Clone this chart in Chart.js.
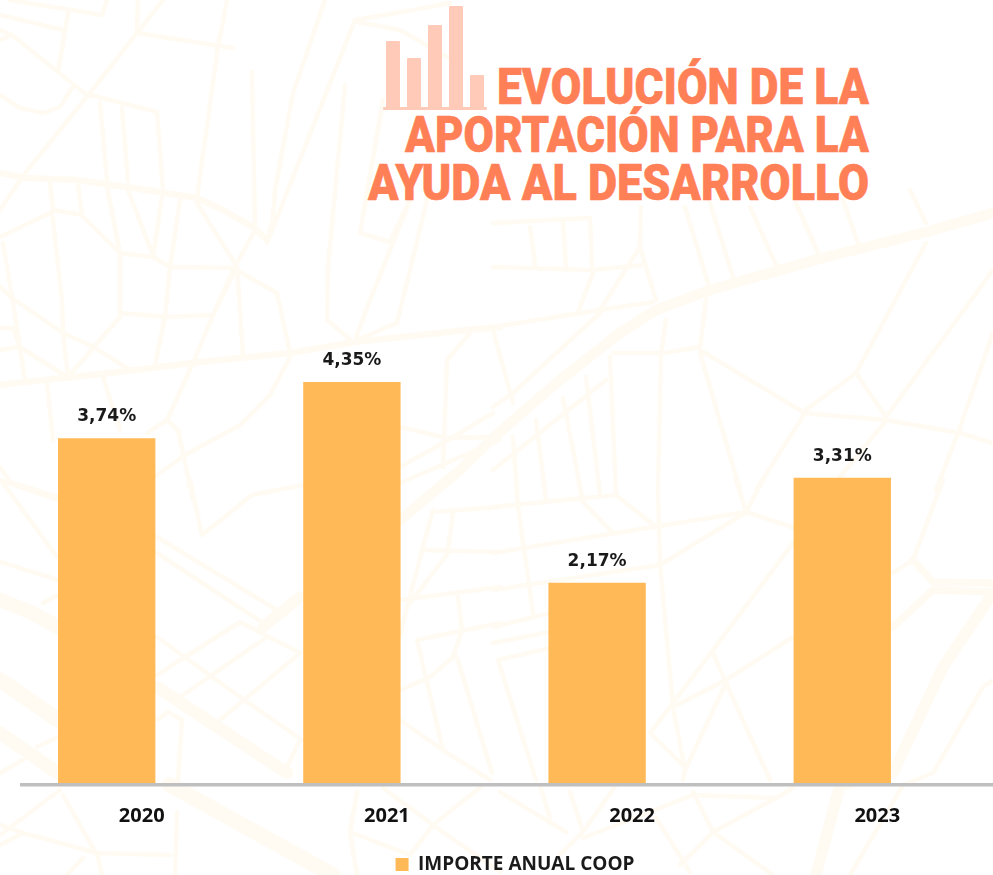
<!DOCTYPE html>
<html lang="es">
<head>
  <meta charset="UTF-8" />
  <title>Evolución de la aportación para la ayuda al desarrollo</title>
  <script src="https://cdn.jsdelivr.net/npm/chart.js"></script>
  <style>
    html, body { margin: 0; width: 993px; height: 875px; overflow: hidden; background: #fff; }
    svg, canvas { position: absolute; left: 0; top: 0; }
    #streets { fill: none; stroke: #fffbf3; stroke-linejoin: round; stroke-linecap: round; }
    #titleBlock text { font-family: Roboto, sans-serif; font-weight: 900; font-size: 50.5px; fill: #ff7f57; stroke: #ff7f57; stroke-width: 0.6px; }
  </style>
</head>
<body>
  <svg id="streets" width="993" height="875"></svg>
  <svg id="titleBlock" width="993" height="875">
    <g fill="#ffcbb8">
      <rect x="386" y="41" width="14" height="67" rx="1" />
      <rect x="407" y="58" width="14" height="50" rx="1" />
      <rect x="428" y="25" width="14" height="83" rx="1" />
      <rect x="449" y="6" width="14" height="102" rx="1" />
      <rect x="470" y="75" width="14" height="33" rx="1" />
      <rect x="383" y="107" width="104" height="3" rx="1" />
    </g>
    <text x="497" y="104" textLength="372" lengthAdjust="spacingAndGlyphs">EVOLUCIÓN DE LA</text>
    <text x="405" y="152" textLength="464" lengthAdjust="spacingAndGlyphs">APORTACIÓN PARA LA</text>
    <text x="368" y="200" textLength="501" lengthAdjust="spacingAndGlyphs">AYUDA AL DESARROLLO</text>
  </svg>
  <canvas id="chartCanvas" width="1010" height="884"></canvas>
  <script>
    const years = [2020, 2021, 2022, 2023];
    const values = [3.74, 4.35, 2.17, 3.31];
    const seriesName = 'IMPORTE ANUAL COOP';

    // faint street map behind the chart: [stroke width, x1,y1, x2,y2, ...]
    const streets = [
      [3,10,0,102,15,107,0],[3,0,15,63,30],[3,68,13,58,72],[3,0,30,12,35,58,72,87,95],[3,0,40,12,35],
      [3,0,95,20,108,43,113,60,107,72,88],[3,163,0,137,33,90,93,25,173,0,210],[3,138,0,137,33],[3,137,33,233,48],
      [3,227,0,218,47,197,197],[3,90,95,157,112,163,190],[3,100,103,107,180],[3,122,108,128,182],
      [5,0,173,25,178,77,180,133,188,197,198,223,210,253,227,267,240],[3,50,183,53,210,82,215,78,185],
      [3,0,237,52,212,62,300,63,333,68,377],[3,3,243,12,297,25,380],[3,83,217,120,253,153,257,170,267,233,268,277,293,290,353],
      [3,107,187,120,253,120,313,165,317,213,315,237,267],[3,128,190,152,253],[3,162,197,153,257],
      [3,180,200,170,267,165,317,155,365],[3,197,203,237,267,243,355],[3,255,230,233,270,213,315,193,363,167,420,147,433],
      [3,252,72,255,230],[3,325,0,293,93,275,190,273,217,267,243,355,20,413,10,450,3],[3,357,22,400,30,447,57],
      [3,345,85,328,267,327,320,353,342],[3,383,100,360,233,390,242,413,193,370,300,355,340],[3,427,200,397,323,357,340],
      [3,0,287,12,298,63,333,90,345,130,370],[3,68,377,120,317],[3,20,347,67,377],[3,0,328,13,328,20,347,0,350],
      [5,0,385,25,382,110,373,200,362,290,353,355,342,467,330,500,327],[3,290,357,270,395,240,425,185,455,150,480],
      [3,47,383,53,440],[3,103,377,120,430],[3,167,420,178,430,193,500],[3,0,467,10,482,58,497],
      [3,447,360,443,467],[3,470,333,447,360],[3,400,427,447,438,500,437],[3,493,413,443,443,400,467],[3,500,440,400,483],
      [9,993,213,926,232,826,257,710,290,656,310,620,333,560,380,493,438,460,470,400,520],
      [3,493,223,590,218,592,267],[3,530,227,535,265],[3,563,223,566,267],[3,493,267,593,270,643,265],[3,593,273,578,312],
      [3,641,207,640,247,600,310],[3,640,247,656,300],[3,493,327,600,310,653,302],[3,600,313,513,393,493,407],[3,493,330,513,403],
      [3,685,207,708,283],[3,710,203,733,277],[3,750,207,776,265],[3,796,203,818,253],[3,843,200,858,243],[3,910,190,926,223],
      [3,706,300,700,347,663,353,613,353],[3,666,320,661,353,658,490,660,563,673,707,685,770],[3,700,350,803,412,856,373,926,243],
      [3,700,353,740,490],[3,803,413,886,420,960,433,993,443],[3,805,413,756,490],[3,856,373,886,417,993,270],[3,885,422,840,477],
      [3,993,333,958,433,936,490],[3,610,357,616,495],[3,606,380,493,470],[3,586,377,600,495],[3,563,398,583,502],[3,536,420,546,500],
      [3,513,437,518,507,533,613],[3,493,507,616,495,656,527],[3,583,502,613,533],[3,493,553,746,512],[3,746,512,795,528],
      [3,736,480,746,512,763,480],[3,493,590,660,565,745,513],[3,493,627,550,613],[3,493,643,550,632],[3,498,660,550,648],[3,498,660,536,780],
      [3,793,543,713,650,670,707,650,733,685,767],[3,793,637,726,680,673,707],[3,713,653,726,683,770,780],[3,726,683,685,770,683,780],
      [3,943,480,913,560,893,573],[6,913,560,933,582,993,583],[6,990,592,933,590,893,627],[10,993,593,943,667,893,773,840,785,816,875],
      [3,993,680,983,687,933,773,903,785,850,875],
      [3,0,480,58,500],[3,3,483,57,557],[3,0,562,58,580],[13,0,600,30,612,58,627],[3,43,603,58,595],[14,0,680,58,720],[12,0,733,58,773],
      [3,37,747,58,737],[3,0,773,23,760],[3,157,537,280,612,263,623,157,553],[10,300,597,263,627],[3,190,480,202,535,252,495,303,485],
      [3,157,637,240,697,302,740],[3,240,622,157,675],[3,267,637,180,697],[3,240,622,300,653,220,720],[11,157,687,287,773],
      [3,157,720,168,712,182,720,178,780],[3,300,740,287,767],[3,433,510,408,603,400,637],[3,453,513,448,550],[3,433,512,500,507],
      [3,423,550,500,552],[3,448,553,410,603],[3,400,600,500,587],[3,458,597,462,630,453,657,430,677,400,690],[3,417,640,500,623],
      [3,417,640,443,750,400,720],[3,443,750,490,780],[3,457,657,492,773],
      [14,170,785,333,875],[3,60,790,0,835],[3,63,795,97,855],[3,0,825,23,833,97,853,170,855],[3,23,833,0,845],[3,97,853,102,875],[3,83,858,67,875],
      [3,177,812,175,875],[3,357,792,350,832,357,875],[3,383,788,433,825,483,785],[3,433,825,500,872],[3,350,832,410,855,433,825],
      [3,500,792,566,832],[3,540,785,550,818],[3,570,792,583,832,560,855],[3,616,785,583,832],[3,583,838,693,795,776,798,793,788],
      [3,693,792,713,832,680,865],[3,713,832,773,875],[3,713,832,776,798],[3,656,818,690,872]
    ];
    const streetSvg = document.getElementById('streets');
    streets.forEach(s => {
      const line = document.createElementNS('http://www.w3.org/2000/svg', 'polyline');
      line.setAttribute('stroke-width', s[0] + 1.5);
      line.setAttribute('points', s.slice(1).join(' '));
      streetSvg.appendChild(line);
    });

    // grey rule under the bars, and the value above each one
    const barExtras = {
      id: 'barExtras',
      afterDatasetsDraw(chart) {
        const { ctx, chartArea } = chart;
        ctx.save();
        ctx.fillStyle = '#bfbfbf';
        ctx.fillRect(chartArea.left, chartArea.bottom, chartArea.right - chartArea.left, 3.5);
        ctx.font = 'bold 17px "DejaVu Sans"';
        ctx.fillStyle = '#1a1a1a';
        ctx.textAlign = 'center';
        ctx.textBaseline = 'middle';
        chart.getDatasetMeta(0).data.forEach((bar, i) => {
          ctx.fillText(values[i].toFixed(2).replace('.', ',') + '%', bar.x, bar.y - 22);
        });
        ctx.restore();
      }
    };

    new Chart(document.getElementById('chartCanvas'), {
      type: 'bar',
      data: {
        datasets: [{
          label: seriesName,
          data: years.map((y, i) => ({ x: y, y: values[i] })),
          backgroundColor: '#ffb957',
          barThickness: 96.7
        }]
      },
      plugins: [barExtras],
      options: {
        responsive: false,
        animation: false,
        layout: { padding: { top: 322.5, left: 20 } },
        plugins: {
          tooltip: { enabled: false },
          legend: {
            position: 'bottom',
            labels: {
              boxWidth: 13,
              boxHeight: 13,
              padding: 2,
              color: '#1a1a1a',
              font: { family: '"Open Sans"', size: 19, weight: 'bold' }
            }
          }
        },
        scales: {
          x: {
            type: 'linear',
            offset: false,
            min: 2019.6464,
            max: 2023.684,
            afterFit(scale) { scale.height = 70; },
            grid: { display: false, drawTicks: false },
            border: { display: false },
            ticks: {
              stepSize: 1,
              includeBounds: false,
              labelOffset: 35,
              padding: 21,
              maxRotation: 0,
              color: '#111111',
              font: { family: '"Open Sans"', size: 20, weight: 'bold' },
              callback: v => String(v)
            }
          },
          y: { display: false, min: 0, max: 5 }
        }
      }
    });
  </script>
</body>
</html>
